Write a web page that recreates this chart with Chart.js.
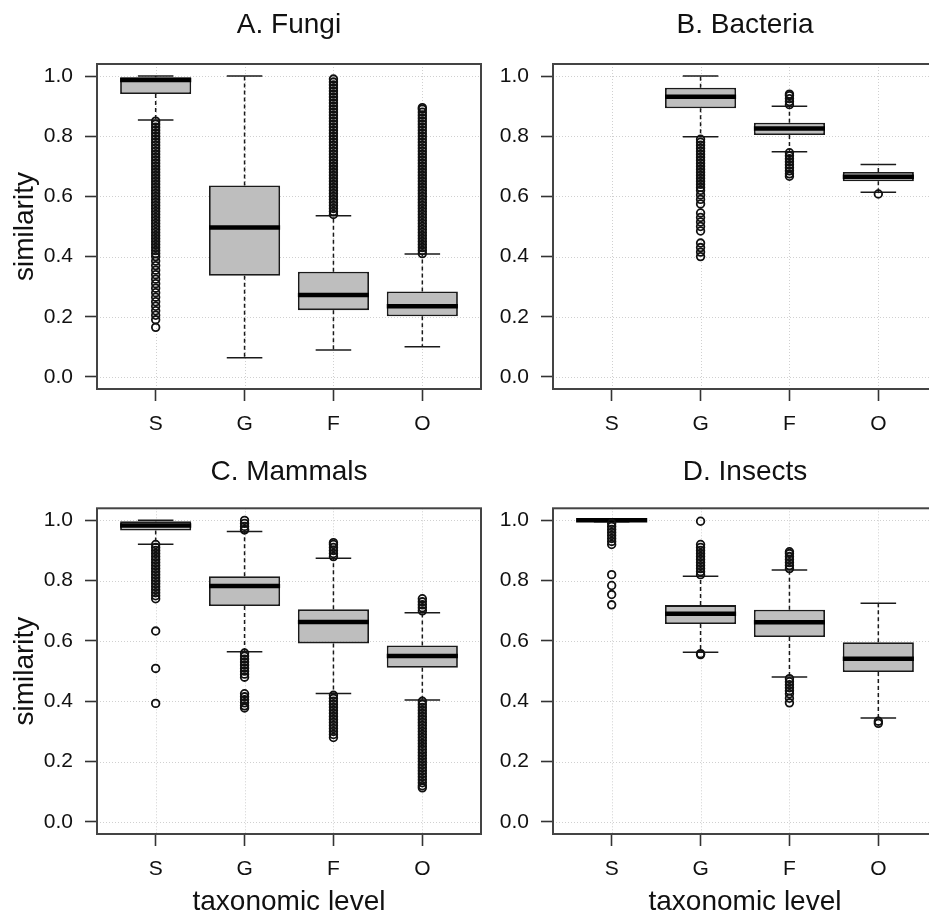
<!DOCTYPE html>
<html>
<head>
<meta charset="utf-8">
<script src="https://cdn.jsdelivr.net/npm/chart.js@4.4.1/dist/chart.umd.min.js"></script>
<style>
  html, body { margin: 0; padding: 0; background: #fff; }
  #wrap { position: relative; width: 929px; height: 920px; overflow: hidden; }
  #wrap canvas { position: absolute; }
</style>
</head>
<body>
<div id="wrap"></div>
<script>
const categories = ['S', 'G', 'F', 'O'];
const yTicks = [0, 0.2, 0.4, 0.6, 0.8, 1.0];

// one row per level: lower whisker, lower hinge, median, upper hinge, upper whisker
const fungiStats = [
  [0.854, 0.94, 0.987, 0.996, 1.0],
  [0.064, 0.336, 0.497, 0.636, 1.0],
  [0.09, 0.222, 0.272, 0.350, 0.536],
  [0.10, 0.202, 0.235, 0.284, 0.409]
];
const fungiOutliers = [
  [0.85, 0.84, 0.83, 0.82, 0.81, 0.80, 0.79, 0.78, 0.77, 0.76, 0.75, 0.74, 0.73, 0.72, 0.71, 0.70,
   0.69, 0.68, 0.67, 0.66, 0.65, 0.64, 0.63, 0.62, 0.61, 0.60, 0.59, 0.58, 0.57, 0.56, 0.55, 0.54,
   0.53, 0.52, 0.51, 0.50, 0.49, 0.48, 0.47, 0.46, 0.45, 0.44, 0.43, 0.42, 0.41, 0.40, 0.385, 0.37,
   0.355, 0.34, 0.325, 0.31, 0.295, 0.28, 0.265, 0.25, 0.235, 0.22, 0.205, 0.19, 0.165],
  [],
  [0.54, 0.55, 0.56, 0.57, 0.58, 0.59, 0.60, 0.61, 0.62, 0.63, 0.64, 0.65, 0.66, 0.67, 0.68, 0.69,
   0.70, 0.71, 0.72, 0.73, 0.74, 0.75, 0.76, 0.77, 0.78, 0.79, 0.80, 0.81, 0.82, 0.83, 0.84, 0.85,
   0.86, 0.87, 0.88, 0.89, 0.90, 0.91, 0.92, 0.93, 0.94, 0.95, 0.96, 0.97, 0.98, 0.99],
  [0.41, 0.42, 0.43, 0.44, 0.45, 0.46, 0.47, 0.48, 0.49, 0.50, 0.51, 0.52, 0.53, 0.54, 0.55, 0.56,
   0.57, 0.58, 0.59, 0.60, 0.61, 0.62, 0.63, 0.64, 0.65, 0.66, 0.67, 0.68, 0.69, 0.70, 0.71, 0.72,
   0.73, 0.74, 0.75, 0.76, 0.77, 0.78, 0.79, 0.80, 0.81, 0.82, 0.83, 0.84, 0.85, 0.86, 0.87, 0.88,
   0.89, 0.895]
];

const bacteriaStats = [
  null,
  [0.798, 0.893, 0.931, 0.961, 1.0],
  [0.748, 0.804, 0.826, 0.845, 0.90],
  [0.614, 0.65, 0.665, 0.681, 0.706]
];
const bacteriaOutliers = [
  [],
  [0.79, 0.78, 0.77, 0.76, 0.75, 0.74, 0.73, 0.72, 0.71, 0.70, 0.69, 0.68, 0.67, 0.66, 0.65, 0.64,
   0.63, 0.62, 0.605, 0.59, 0.575, 0.545, 0.53, 0.515, 0.50, 0.485, 0.445, 0.43, 0.415, 0.40],
  [0.905, 0.915, 0.925, 0.935, 0.94, 0.745, 0.735, 0.725, 0.715, 0.705, 0.695, 0.685, 0.675, 0.667],
  [0.608]
];

const mammalsStats = [
  [0.921, 0.966, 0.983, 0.997, 1.0],
  [0.564, 0.716, 0.782, 0.815, 0.963],
  [0.426, 0.592, 0.663, 0.705, 0.874],
  [0.404, 0.511, 0.55, 0.585, 0.694]
];
const mammalsOutliers = [
  [0.92, 0.91, 0.90, 0.89, 0.88, 0.87, 0.86, 0.85, 0.84, 0.83, 0.82, 0.81, 0.80, 0.79, 0.78, 0.77,
   0.76, 0.75, 0.74, 0.633, 0.509, 0.393],
  [0.968, 0.97, 0.98, 0.99, 1.0, 0.56, 0.55, 0.54, 0.53, 0.52, 0.51, 0.50, 0.49, 0.48,
   0.425, 0.415, 0.405, 0.395, 0.385, 0.378],
  [0.88, 0.89, 0.90, 0.91, 0.92, 0.926, 0.42, 0.41, 0.40, 0.39, 0.38, 0.37, 0.36, 0.35, 0.34, 0.33,
   0.32, 0.31, 0.30, 0.29, 0.28],
  [0.70, 0.71, 0.72, 0.73, 0.74, 0.40, 0.39, 0.38, 0.37, 0.36, 0.35, 0.34, 0.33, 0.32, 0.31, 0.30,
   0.29, 0.28, 0.27, 0.26, 0.25, 0.24, 0.23, 0.22, 0.21, 0.20, 0.19, 0.18, 0.17, 0.16, 0.15, 0.14,
   0.13, 0.12, 0.113]
];

const insectsStats = [
  [0.995, 0.997, 1.0, 1.0, 1.0],
  [0.563, 0.656, 0.690, 0.719, 0.815],
  [0.481, 0.613, 0.662, 0.704, 0.835],
  [0.345, 0.497, 0.541, 0.596, 0.725]
];
const insectsOutliers = [
  [0.99, 0.98, 0.97, 0.96, 0.95, 0.94, 0.93, 0.92, 0.82, 0.784, 0.754, 0.72],
  [0.82, 0.83, 0.84, 0.85, 0.86, 0.87, 0.88, 0.89, 0.90, 0.91, 0.92, 0.997, 0.558, 0.555],
  [0.84, 0.85, 0.86, 0.87, 0.88, 0.89, 0.896, 0.475, 0.465, 0.455, 0.445, 0.435, 0.425, 0.41, 0.395],
  [0.334, 0.327]
];

Chart.defaults.font.family = '"Liberation Sans", Arial, sans-serif';
Chart.defaults.color = '#111';

const ink = '#1a1a1a';

// grid, whiskers, staples and medians, drawn through the chart's own scales
function boxParts(stats) {
  const seg = (ctx, x1, y1, x2, y2) => {
    ctx.beginPath(); ctx.moveTo(x1, y1); ctx.lineTo(x2, y2); ctx.stroke();
  };
  return {
    id: 'boxParts',
    beforeDatasetsDraw(chart) {
      const { ctx, chartArea: a, scales: { x, y } } = chart;
      ctx.save();
      ctx.strokeStyle = '#d0d0d0';
      ctx.lineWidth = 1;
      ctx.setLineDash([1, 2]);
      y.ticks.forEach(t => {
        const py = Math.round(y.getPixelForValue(t.value)) + 0.5;
        seg(ctx, a.left, py, a.right, py);
      });
      x.ticks.forEach(t => {
        const px = Math.round(x.getPixelForValue(t.value)) + 0.5;
        seg(ctx, px, a.top, px, a.bottom);
      });

      ctx.strokeStyle = ink;
      ctx.lineWidth = 1.5;
      ctx.setLineDash([4, 3]);
      stats.forEach((s, i) => {
        if (!s) return;
        const px = x.getPixelForValue(i + 1);
        seg(ctx, px, y.getPixelForValue(s[3]), px, y.getPixelForValue(s[4]));
        seg(ctx, px, y.getPixelForValue(s[1]), px, y.getPixelForValue(s[0]));
      });
      ctx.setLineDash([]);
      stats.forEach((s, i) => {
        if (!s) return;
        const x1 = x.getPixelForValue(i + 0.8), x2 = x.getPixelForValue(i + 1.2);
        [s[0], s[4]].forEach(v => {
          const py = y.getPixelForValue(v);
          seg(ctx, x1, py, x2, py);
        });
      });
      ctx.restore();
    },
    afterDatasetDraw(chart, args) {
      if (args.index !== 0) return;
      const { ctx, scales: { x, y } } = chart;
      ctx.save();
      ctx.strokeStyle = '#000';
      ctx.lineWidth = 4.5;
      stats.forEach((s, i) => {
        if (!s) return;
        const py = y.getPixelForValue(s[2]);
        seg(ctx, x.getPixelForValue(i + 0.6), py, x.getPixelForValue(i + 1.4), py);
      });
      ctx.restore();
    },
    afterDraw(chart) {
      const { ctx, chartArea: a } = chart;
      ctx.save();
      ctx.strokeStyle = '#444';
      ctx.lineWidth = 2;
      ctx.strokeRect(a.left, a.top, a.right - a.left, a.bottom - a.top);
      ctx.restore();
    }
  };
}

function addCanvas(left, top, w, h) {
  const c = document.createElement('canvas');
  c.width = w;
  c.height = h;
  c.style.left = left + 'px';
  c.style.top = top + 'px';
  document.getElementById('wrap').appendChild(c);
  return c;
}

function drawPanel(p) {
  const canvas = addCanvas(p.left, p.top, 578, p.height);
  const boxes = p.stats.map((s, i) => s && { x: i + 1, y: [s[1], s[3]] }).filter(Boolean);
  const points = p.outliers.flatMap((vals, i) => vals.map(v => ({ x: i + 1, y: v })));

  new Chart(canvas, {
    type: 'bar',
    data: {
      datasets: [
        {
          type: 'bar',
          data: boxes,
          backgroundColor: '#bebebe',
          borderColor: ink,
          borderWidth: 1.8,
          borderSkipped: false,
          barPercentage: 0.8,
          categoryPercentage: 1,
          order: 2
        },
        {
          type: 'scatter',
          data: points,
          pointStyle: 'circle',
          pointRadius: 3.8,
          pointBorderWidth: 1.8,
          pointBorderColor: '#111',
          pointBackgroundColor: 'rgba(0,0,0,0)',
          order: 1
        }
      ]
    },
    options: {
      responsive: false,
      animation: false,
      events: [],
      layout: { padding: 0 },
      plugins: {
        legend: { display: false },
        tooltip: { enabled: false },
        title: {
          display: true,
          text: p.title,
          color: '#111',
          font: { size: 28, weight: 'normal' },
          padding: p.titlePad
        }
      },
      scales: {
        x: {
          type: 'linear',
          min: 0.34,
          max: 4.66,
          offset: false,
          afterBuildTicks: s => { s.ticks = categories.map((c, i) => ({ value: i + 1 })); },
          afterFit: s => { s.height = p.xAxisH; },
          ticks: {
            callback: (v, i) => categories[i],
            font: { size: 21 },
            padding: 11,
            maxRotation: 0,
            autoSkip: false
          },
          grid: { offset: false, drawOnChartArea: false, tickLength: 12, tickColor: '#333', tickWidth: 1.6 },
          border: { display: false },
          title: {
            display: p.xTitle,
            text: 'taxonomic level',
            font: { size: 28 },
            padding: { top: 0, bottom: 1 }
          }
        },
        y: {
          min: -0.04,
          max: 1.04,
          afterBuildTicks: s => { s.ticks = yTicks.map(v => ({ value: v })); },
          afterFit: s => { s.width = 97; },
          ticks: {
            callback: v => Number(v).toFixed(1),
            font: { size: 21 },
            padding: 12
          },
          grid: { drawOnChartArea: false, tickLength: 12, tickColor: '#333', tickWidth: 1.6 },
          border: { display: false },
          title: {
            display: p.yTitle,
            text: 'similarity',
            font: { size: 28 },
            padding: { top: 8, bottom: 0 }
          }
        },
        // empty right-hand gutter so the title stays centred over the plot
        y2: {
          position: 'right',
          display: true,
          grid: { display: false },
          ticks: { display: false },
          border: { display: false },
          afterFit: s => { s.width = 97; }
        }
      }
    },
    plugins: [boxParts(p.stats)]
  });
}

drawPanel({ left: 0, top: 0, height: 460, title: 'A. Fungi', stats: fungiStats, outliers: fungiOutliers,
  yTitle: true, xTitle: false, titlePad: { top: 8, bottom: 22.4 }, xAxisH: 71 });
drawPanel({ left: 456, top: 0, height: 460, title: 'B. Bacteria', stats: bacteriaStats, outliers: bacteriaOutliers,
  yTitle: false, xTitle: false, titlePad: { top: 8, bottom: 22.4 }, xAxisH: 71 });
drawPanel({ left: 0, top: 440, height: 480, title: 'C. Mammals', stats: mammalsStats, outliers: mammalsOutliers,
  yTitle: true, xTitle: true, titlePad: { top: 15, bottom: 19.7 }, xAxisH: 86 });
drawPanel({ left: 456, top: 440, height: 480, title: 'D. Insects', stats: insectsStats, outliers: insectsOutliers,
  yTitle: false, xTitle: true, titlePad: { top: 15, bottom: 19.7 }, xAxisH: 86 });
</script>
</body>
</html>
